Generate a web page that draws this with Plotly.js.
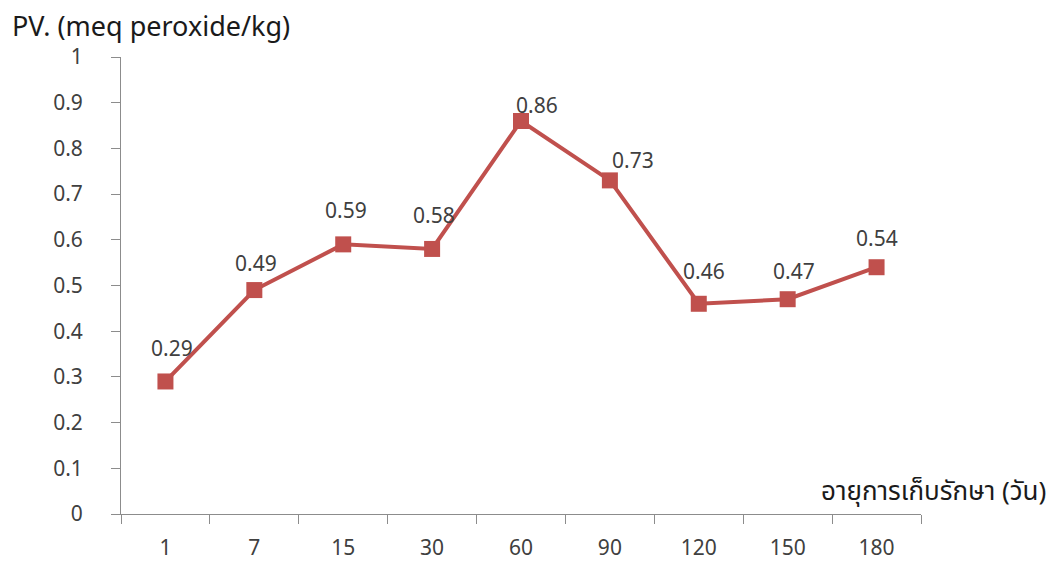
<!DOCTYPE html>
<html>
<head>
<meta charset="utf-8">
<script src="https://cdn.plot.ly/plotly-3.0.1.min.js"></script>
<style>body{margin:0;background:#fff}#chart{width:1056px;height:564px}</style>
</head>
<body>
<div id="chart"></div>
<script>
var days = ["1", "7", "15", "30", "60", "90", "120", "150", "180"];
var pv = [0.29, 0.49, 0.59, 0.58, 0.86, 0.73, 0.46, 0.47, 0.54];
var labelDx = [7, 2, 3, 2, 16, 23, 5, 6, 0];
var labelDy = [33, 27, 34, 34, 16, 20, 33, 28, 29];

var fontFam = "'Noto Sans', 'Noto Sans Thai', 'Liberation Sans', sans-serif";
var col = "#C0504D";

var trace = {
  x: days, y: pv, type: "scatter", mode: "lines+markers",
  line: {color: col, width: 4},
  marker: {symbol: "square", size: 16, color: col},
  hoverinfo: "skip"
};

var ann = pv.map(function (v, i) {
  return {x: i, y: v, xref: "x", yref: "y", text: v.toFixed(2), showarrow: false,
    xshift: labelDx[i], yshift: labelDy[i], font: {family: fontFam, size: 21, color: "#404040"}};
});
ann.push({xref: "paper", yref: "paper", x: -0.139, y: 1.069, xanchor: "left", yanchor: "middle",
  text: "PV. (meq peroxide/kg)", showarrow: false, font: {family: fontFam, size: 27, color: "#1a1a1a"}});
ann.push({xref: "paper", yref: "paper", x: 1.159, y: 0.0525, xanchor: "right", yanchor: "middle",
  text: "อายุการเก็บรักษา (วัน)", showarrow: false, font: {family: fontFam, size: 26, color: "#1a1a1a"}});

var layout = {
  width: 1056, height: 564,
  margin: {l: 121, r: 135, t: 57, b: 50, pad: 0},
  paper_bgcolor: "#fff", plot_bgcolor: "#fff",
  showlegend: false,
  xaxis: {type: "category", range: [-0.5, 8.5], showgrid: false, zeroline: false,
    showline: true, linecolor: "#8c8c8c", linewidth: 1,
    ticks: "outside", ticklen: 9, tickcolor: "#8c8c8c", tickson: "boundaries",
    ticklabelstandoff: 15,
    tickfont: {family: fontFam, size: 21, color: "#404040"}},
  yaxis: {range: [0, 1], dtick: 0.1, tick0: 0, showgrid: false, zeroline: false,
    showline: true, linecolor: "#8c8c8c", linewidth: 1,
    ticks: "outside", ticklen: 9, tickcolor: "#8c8c8c",
    ticklabelstandoff: 24,
    tickfont: {family: fontFam, size: 21, color: "#404040"}},
  annotations: ann
};

Plotly.newPlot("chart", [trace], layout, {displayModeBar: false, staticPlot: true});
</script>
</body>
</html>
